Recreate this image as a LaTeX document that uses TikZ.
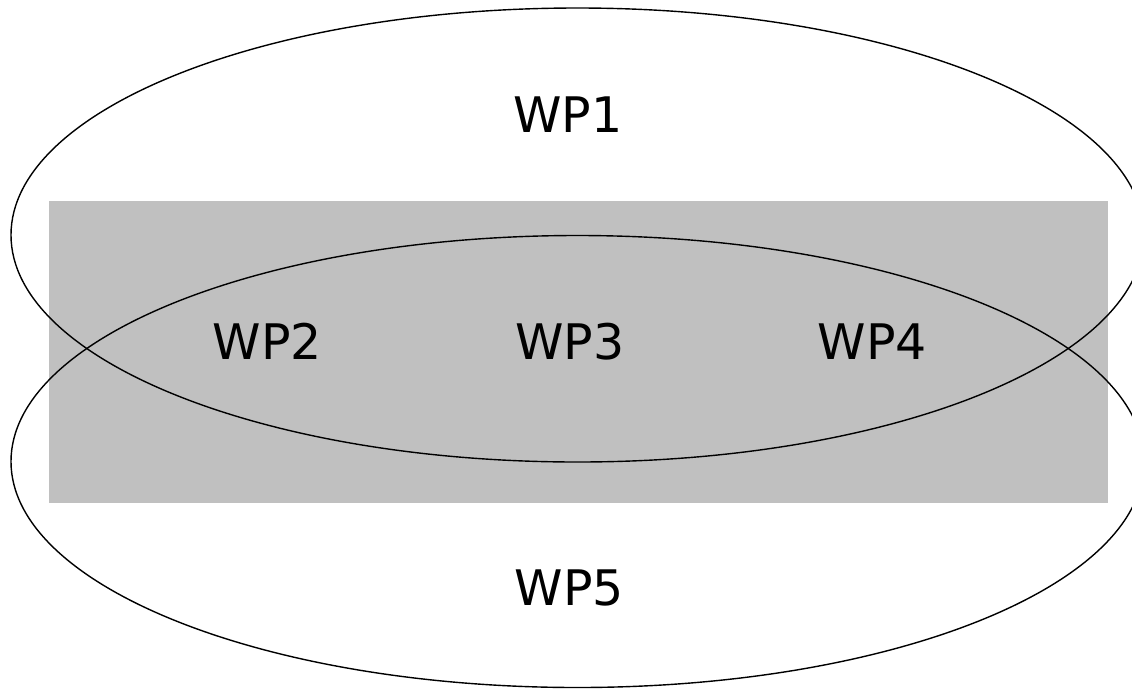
\documentclass[tikz,border=0pt]{standalone}
\usepackage{fontspec}
\setmainfont{DejaVu Sans}
\definecolor{boxgray}{HTML}{C0C0C0}
\begin{document}
\begin{tikzpicture}[x=1pt,y=-1pt,
  ring/.style={draw=black,line width=1.4pt},
  wplabel/.style={anchor=base,inner sep=0pt,font=\fontsize{49}{58}\selectfont}]
\useasboundingbox (0,0) rectangle (1132,689);
\clip (0,0) rectangle (1132,689);
\fill[boxgray] (49,201) rectangle (1108,503);
\draw[ring] (577.5,235) ellipse [x radius=566.5, y radius=227];
\draw[ring] (577.5,461.5) ellipse [x radius=566.5, y radius=226];
\node[wplabel] (wp1) at (568,132) {WP1};
\node[wplabel] (wp2) at (267.5,359) {WP2};
\node[wplabel] (wp3) at (570,359) {WP3};
\node[wplabel] (wp4) at (872.5,359) {WP4};
\node[wplabel] (wp5) at (569.5,605) {WP5};
\end{tikzpicture}
\end{document}
